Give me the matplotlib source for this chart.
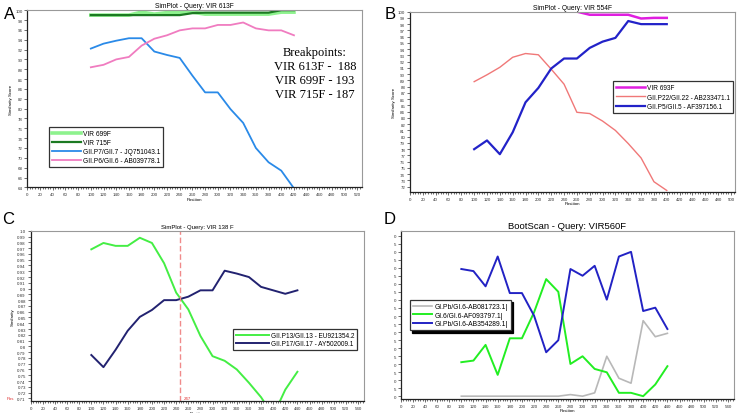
import matplotlib.pyplot as plt
from matplotlib.ticker import MultipleLocator, FixedLocator, FuncFormatter

# ---- Panel A data (SimPlot - Query: VIR 613F)
pos_a = [100, 120, 140, 160, 180, 200, 220, 240, 260, 280, 300, 320, 340, 360, 380, 400, 420]
vir699 = [99.0, 99.0, 99.0, 99.0, 99.6, 99.2, 99.5, 99.6, 99.6, 99.2, 99.2, 99.2, 99.2, 99.2, 99.2, 99.6, 99.6]
vir715 = [99.0, 99.0, 99.0, 99.0, 99.0, 99.0, 99.0, 99.0, 99.4, 99.5, 99.5, 99.5, 99.5, 99.5, 99.5, 100.0, 100.0]
gii_p7 = [92.2, 93.2, 93.8, 94.3, 94.3, 91.6, 90.9, 90.3, 86.7, 83.3, 83.3, 79.9, 77.1, 72.0, 69.1, 67.4, 63.8]
gii_p6 = [88.4, 88.9, 90.0, 90.5, 92.8, 94.2, 94.9, 95.9, 96.3, 96.3, 97.0, 97.0, 97.5, 96.3, 95.9, 95.9, 94.9]
breakpoints = ["Breakpoints:", "VIR 613F -  188", "VIR 699F - 193", "VIR 715F - 187"]

# ---- Panel B data (SimPlot - Query: VIR 554F)
pos_b = [100, 120, 140, 160, 180, 200, 220, 240, 260, 280, 300, 320, 340, 360, 380, 400]
vir693 = [100, 100, 100, 100, 100, 100, 100, 100, 100, 99.5, 99.5, 99.5, 99.5, 98.9, 99.0, 99.0]
gii_p22 = [88.8, 89.9, 91.1, 92.7, 93.3, 93.1, 90.8, 88.4, 83.9, 83.7, 82.5, 81.0, 78.9, 76.6, 72.8, 71.4]
gii_p5 = [78.0, 79.4, 77.2, 80.7, 85.5, 87.8, 90.9, 92.5, 92.5, 94.2, 95.2, 95.8, 98.5, 98.0, 98.0, 98.0]

# ---- Panel C data (SimPlot - Query: VIR 138 F)
pos_c = [100, 120, 140, 160, 180, 200, 220, 240, 260, 280, 300, 320, 340, 360, 380, 400, 420, 440]
gii_p13 = [0.968, 0.979, 0.974, 0.974, 0.988, 0.979, 0.944, 0.893, 0.864, 0.818, 0.783, 0.775, 0.760,
           0.737, 0.712, 0.680, 0.725, 0.756]
gii_p17 = [0.785, 0.764, 0.794, 0.827, 0.851, 0.863, 0.880, 0.880, 0.886, 0.897, 0.897, 0.931, 0.926,
           0.920, 0.903, 0.897, 0.891, 0.897]
breakpoint_c = 247

# ---- Panel D data (BootScan - Query: VIR560F)
pos_d = pos_c
gi_ab081723 = [0, 0, 0, 0, 0, 0, 0, 0, 0, 1.0, 0, 2.1, 24.9, 11.2, 8.1, 47.1, 37.1, 39.2]
gi_af093797 = [21.2, 22.2, 32.0, 13.3, 36.1, 36.1, 52.3, 73.0, 65.1, 20.1, 24.9, 17.0, 14.9, 2.1, 2.1, 0,
               7.3, 18.7]
gi_ab354289 = [79.3, 78.0, 68.5, 87.1, 64.3, 64.3, 50.2, 27.4, 34.9, 79.3, 75.1, 81.3, 60.2, 87.1, 90.0,
               53.1, 55.2, 41.9]

plt.rcParams['font.family'] = ['Liberation Sans', 'DejaVu Sans']
fig = plt.figure(figsize=(7.4, 4.14), dpi=100)


def style_axes(ax, xmax_tick, xlim, title, ylabel, title_size=4.8):
    ax.set_xlim(*xlim)
    ax.xaxis.set_major_locator(FixedLocator(list(range(0, xmax_tick + 1, 20))))
    ax.xaxis.set_minor_locator(MultipleLocator(4))
    ax.tick_params(axis='both', which='major', labelsize=3.2, length=2, width=0.5, pad=1.5, colors='#333333')
    ax.tick_params(axis='x', which='minor', length=1.2, width=0.4)
    ax.set_title(title, fontsize=title_size, pad=2)
    ax.set_xlabel("Position", fontsize=3.2, labelpad=0.5)
    ax.set_ylabel(ylabel, fontsize=3.2, labelpad=1.5)
    for s in ['top', 'right']:
        ax.spines[s].set_color('#999999')
        ax.spines[s].set_linewidth(0.8)
    for s in ['left', 'bottom']:
        ax.spines[s].set_color('#222222')
        ax.spines[s].set_linewidth(0.9)


def add_legend(ax, loc, anchor, size, hlen, spacing=0.25, **kw):
    leg = ax.legend(loc=loc, bbox_to_anchor=anchor, fontsize=size, fancybox=False, framealpha=1,
                    edgecolor='#333333', borderpad=0.45, labelspacing=spacing, handlelength=hlen,
                    handletextpad=0.3, borderaxespad=0, **kw)
    leg.get_frame().set_linewidth(0.9)
    return leg


# Panel A
ax = fig.add_axes([0.037, 0.545, 0.452, 0.428])
ax.plot(pos_a, vir699, color='#8ef28e', lw=2.6, label='VIR 699F')
ax.plot(pos_a, vir715, color='#1c7a22', lw=1.6, label='VIR 715F')
ax.plot(pos_a, gii_p7, color='#2a8ae8', lw=1.3, label='GII.P7/GII.7 - JQ751043.1')
ax.plot(pos_a, gii_p6, color='#f07cc0', lw=1.3, label='GII.P6/GII.6 - AB039778.1')
ax.set_ylim(64, 100)
ax.yaxis.set_major_locator(MultipleLocator(2))
style_axes(ax, 520, (0, 527), "SimPlot - Query: VIR 613F", "Similarity Score")
for i, line in enumerate(breakpoints):
    ax.text(0.86, 0.763 - i * 0.079, line, transform=ax.transAxes, ha='center', va='center',
            fontsize=9, family='Liberation Serif')
add_legend(ax, 'lower left', (0.065, 0.115), 4.8, 4.3, spacing=0.28)
fig.text(0.005, 0.965, "A", fontsize=12, va='center')

# Panel B
ax = fig.add_axes([0.554, 0.5345, 0.439, 0.435])
ax.plot(pos_b, vir693, color='#e01ee0', lw=1.8, label='VIR 693F')
ax.plot(pos_b, gii_p22, color='#f07878', lw=1.0, label='GII.P22/GII.22 - AB233471.1')
ax.plot(pos_b, gii_p5, color='#2222c8', lw=1.6, label='GII.P5/GII.5 - AF397156.1')
ax.set_ylim(71.2, 100)
ax.yaxis.set_major_locator(FixedLocator(list(range(72, 101))))
style_axes(ax, 500, (0, 506), "SimPlot - Query: VIR 554F", "Similarity Score")
add_legend(ax, 'upper right', (0.994, 0.615), 4.7, 4.4, spacing=0.4)
fig.text(0.52, 0.965, "B", fontsize=12, va='center')

# Panel C
ax = fig.add_axes([0.0415, 0.029, 0.4505, 0.411])
ax.plot(pos_c, gii_p13, color='#44ee44', lw=1.4, label='GII.P13/GII.13 - EU921354.2')
ax.plot(pos_c, gii_p17, color='#222270', lw=1.4, label='GII.P17/GII.17 - AY502009.1')
ax.axvline(breakpoint_c, color='#f08a8a', lw=1.0, ls=(0, (4, 2)))
ax.set_ylim(0.7054, 1.0)
ax.yaxis.set_major_locator(FixedLocator([v / 100 for v in range(71, 101)]))


def short_fmt(v, _):
    s = f"{v:.2f}".rstrip('0')
    return s + '0' if s.endswith('.') else s


ax.yaxis.set_major_formatter(FuncFormatter(short_fmt))
style_axes(ax, 540, (0, 550), "SimPlot - Query: VIR 138 F", "Similarity", title_size=4.3)
ax.text(breakpoint_c + 5, 0.711, str(breakpoint_c), color='#e03030', fontsize=3.2, va='center')
fig.text(0.009, 0.036, "Pos", color='#e03030', fontsize=3.2, va='center')
add_legend(ax, 'upper right', (0.979, 0.424), 4.7, 5.0)
fig.text(0.003, 0.471, "C", fontsize=12, va='center')

# Panel D
ax = fig.add_axes([0.5415, 0.034, 0.4505, 0.406])
ax.plot(pos_d, gi_ab081723, color='#b8b8b8', lw=1.2, label='GI.Pb/GI.6-AB081723.1|')
ax.plot(pos_d, gi_af093797, color='#22ee22', lw=1.4, label='GI.6/GI.6-AF093797.1|')
ax.plot(pos_d, gi_ab354289, color='#2222c4', lw=1.4, label='GI.Pb/GI.6-AB354289.1|')
ax.set_ylim(-1.7, 103.1)
ax.yaxis.set_major_locator(FixedLocator(list(range(0, 101, 5))))
ax.yaxis.set_major_formatter(FuncFormatter(lambda v, _: str(int(round(v)))[-1]))
style_axes(ax, 540, (0, 550), "BootScan - Query: VIR560F", "", title_size=6.8)
add_legend(ax, 'upper left', (0.028, 0.589), 4.9, 2.8,
           shadow={'color': 'black', 'alpha': 1, 'ox': 1.5, 'oy': -1.5})
fig.text(0.518, 0.469, "D", fontsize=12, va='center')

fig.savefig("out.png", dpi=100)
